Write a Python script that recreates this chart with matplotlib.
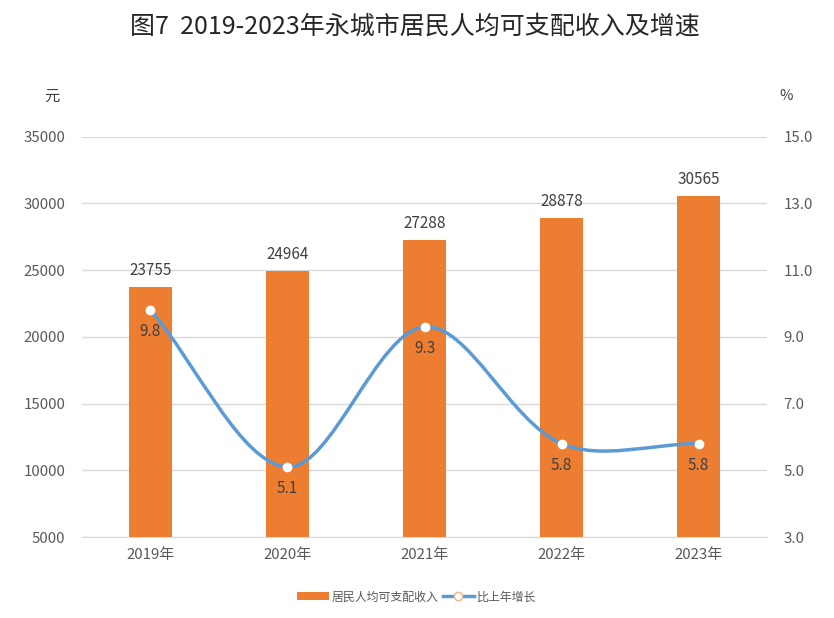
import numpy as np
import matplotlib
matplotlib.use('Agg')
import matplotlib.pyplot as plt
from matplotlib.path import Path
from matplotlib.patches import PathPatch, Patch
from matplotlib.lines import Line2D

plt.rcParams['font.family'] = ['Noto Sans CJK SC', 'DejaVu Sans']

# 数据
years = ['2019年', '2020年', '2021年', '2022年', '2023年']
income = [23755, 24964, 27288, 28878, 30565]
growth = [9.8, 5.1, 9.3, 5.8, 5.8]

bar_color = '#ED7D31'
line_color = '#5B9BD5'
text_color = '#404040'
tick_color = '#595959'

fig = plt.figure(figsize=(8.34, 6.18), dpi=100)
ax = fig.add_axes([0.0983, 0.131, 0.8214, 0.648])
x = np.arange(len(years))

ax.bar(x, income, width=0.31, color=bar_color, zorder=2)
ax.set_ylim(5000, 35000)
ax.set_yticks(np.arange(5000, 35001, 5000))
ax.set_xlim(-0.5, len(years) - 0.5)
ax.set_xticks(x)
ax.set_xticklabels(years)
ax.grid(axis='y', color='#D9D9D9', linewidth=1, zorder=0)
for s in ['top', 'left', 'right']:
    ax.spines[s].set_visible(False)
ax.spines['bottom'].set_color('#D9D9D9')
ax.tick_params(axis='both', length=0, colors=tick_color, labelsize=10.8)
ax.tick_params(axis='x', pad=8)
ax.tick_params(axis='y', pad=12)
for xi, v in zip(x, income):
    ax.text(xi, v + 600, str(v), ha='center', va='bottom', fontsize=11, color=text_color)

ax2 = ax.twinx()
ax2.set_ylim(3.0, 15.0)
ax2.set_yticks(np.arange(3.0, 15.01, 2.0))
ax2.set_yticklabels([f'{t:.1f}' for t in np.arange(3.0, 15.01, 2.0)])
for s in ['top', 'left', 'right', 'bottom']:
    ax2.spines[s].set_visible(False)
ax2.tick_params(axis='y', length=0, colors=tick_color, labelsize=10.8, pad=12)

# 平滑曲线（按弦长加权的贝塞尔，在像素比例下计算）
sx, sy = 137.0, 33.4
pts = np.column_stack([x * sx, np.array(growth) * sy]).astype(float)
n = len(pts)
d = [np.hypot(*(pts[i + 1] - pts[i])) for i in range(n - 1)]
tang = []
for i in range(n):
    if i == 0:
        tang.append((pts[1] - pts[0]) / d[0])
    elif i == n - 1:
        tang.append((pts[-1] - pts[-2]) / d[-1])
    else:
        tang.append((pts[i + 1] - pts[i - 1]) / (d[i - 1] + d[i]))
verts = [pts[0]]
codes = [Path.MOVETO]
for i in range(n - 1):
    c1 = pts[i] + tang[i] * d[i] / 3
    c2 = pts[i + 1] - tang[i + 1] * d[i] / 3
    verts += [c1, c2, pts[i + 1]]
    codes += [Path.CURVE4] * 3
verts = np.array(verts) / np.array([sx, sy])
ax2.add_patch(PathPatch(Path(verts, codes), facecolor='none', edgecolor=line_color,
                        linewidth=2.5, capstyle='round', zorder=3))
ax2.plot(x, growth, linestyle='none', marker='o', markersize=6,
         markerfacecolor='white', markeredgecolor='white', zorder=4)
for xi, g in zip(x, growth):
    ax2.text(xi, g - 0.65, f'{g:.1f}', ha='center', va='center', fontsize=11, color=text_color)

fig.text(0.062, 0.845, '元', ha='center', va='center', fontsize=11, color=text_color)
fig.text(0.942, 0.845, '%', ha='center', va='center', fontsize=10.5, color=text_color)
fig.text(0.498, 0.957, '图7  2019-2023年永城市居民人均可支配收入及增速', ha='center', va='center',
         fontsize=18, color='#262626')

handles = [Patch(facecolor=bar_color, label='居民人均可支配收入'),
           Line2D([0], [0], color=line_color, linewidth=2.5, marker='o', markersize=6,
                  markerfacecolor='white', markeredgecolor='#F4B183', label='比上年增长')]
fig.legend(handles=handles, loc='center', bbox_to_anchor=(0.5, 0.034), ncol=2, frameon=False,
           fontsize=8.6, labelcolor=tick_color, handlelength=2.6, handleheight=0.6,
           columnspacing=0.3, handletextpad=0.3)

fig.savefig('out.png', dpi=100)
